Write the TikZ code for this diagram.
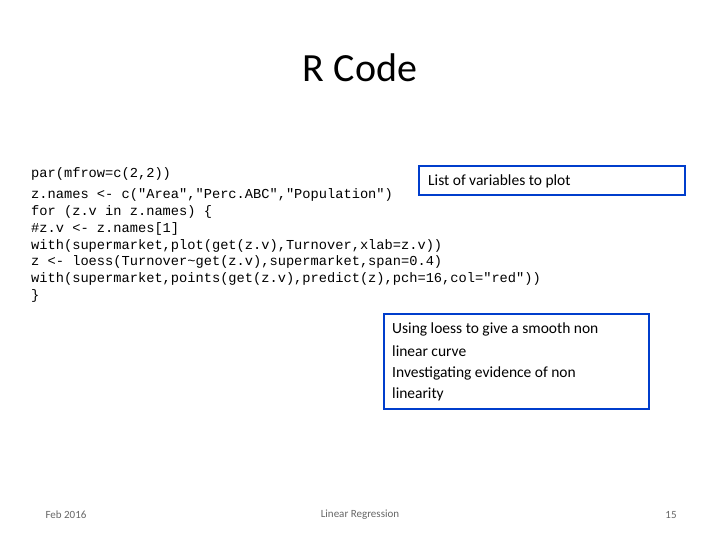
\documentclass[tikz,border=0pt]{standalone}
\usepackage{fontspec}
\setmainfont{Carlito}
\newfontfamily\codefont{Liberation Mono}
\begin{document}
\begin{tikzpicture}[x=1pt,y=-1pt,
  code/.style={anchor=west,inner sep=0pt,font=\codefont\fontsize{13.7}{15}\selectfont},
  box/.style={draw=blue!60!black!80!cyan,line width=2pt,anchor=north west,inner sep=0pt},
  note/.style={anchor=west,inner sep=0pt,font=\fontsize{15.5}{18}\selectfont},
  foot/.style={inner sep=0pt,font=\fontsize{11}{13}\selectfont,text=black!60}]
\useasboundingbox (0,0) rectangle (720,540);
\node[inner sep=0pt,font=\fontsize{40}{48}\selectfont] (title) at (360,68) {R Code};
\node[code] (c1) at (31,174) {par(mfrow=c(2,2))};
\node[code] (c2) at (31,195) {z.names <- c("Area","Perc.ABC","Population")};
\node[code] (c3) at (31,212) {for (z.v in z.names) \{};
\node[code] (c4) at (31,229) {\#z.v <- z.names[1]};
\node[code] (c5) at (31,246) {with(supermarket,plot(get(z.v),Turnover,xlab=z.v))};
\node[code] (c6) at (31,262) {z <- loess(Turnover\char`~get(z.v),supermarket,span=0.4)};
\node[code] (c7) at (31,279) {with(supermarket,points(get(z.v),predict(z),pch=16,col="red"))};
\node[code] (c8) at (31,296) {\}};
\draw[draw=blue!70!cyan!80!black,line width=2pt] (419,166) rectangle (685,195);
\node[note] (n1) at (428,181) {List of variables to plot};
\draw[draw=blue!70!cyan!80!black,line width=2pt] (384,314) rectangle (649,409);
\node[note] (n2) at (392,329) {Using loess to give a smooth non};
\node[note] (n3) at (392,351) {linear curve};
\node[note] (n4) at (392,373) {Investigating evidence of non};
\node[note] (n5) at (392,394) {linearity};
\node[foot] (f1) at (66,515) {Feb 2016};
\node[foot] (f2) at (360,515) {Linear Regression};
\node[foot] (f3) at (671,515) {15};
\end{tikzpicture}
\end{document}
